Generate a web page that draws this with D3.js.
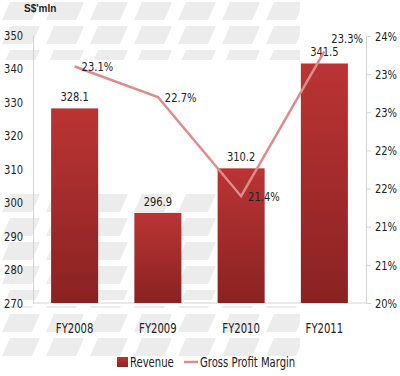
<!DOCTYPE html>
<html>
<head>
<meta charset="utf-8">
<script src="https://cdn.jsdelivr.net/npm/d3@7"></script>
<style>
  body { margin: 0; background: #fff; }
  text { font-family: "Liberation Sans Narrow", "DejaVu Sans Condensed", sans-serif; fill: #222; }
  .axis path, .axis line { stroke: #d4d4d4; }
</style>
</head>
<body>
<div id="graph"></div>
<script>
// data
var years       = ['FY2008', 'FY2009', 'FY2010', 'FY2011'];
var revenue     = [328.1, 296.9, 310.2, 341.5];
var grossMargin = [0.231, 0.227, 0.214, 0.233];

var leftTicks   = [270, 280, 290, 300, 310, 320, 330, 340, 350];
var rightTicks  = [0.200, 0.205, 0.210, 0.215, 0.220, 0.225, 0.230, 0.235];
var rightLabels = ['20%', '21%', '21%', '22%', '22%', '23%', '23%', '24%'];

var W = 400, H = 376;
var plot = { left: 33, right: 366, top: 35, bottom: 303 };

var svg = d3.select('#graph').append('svg')
            .attr('width', W)
            .attr('height', H);

var defs = svg.append('defs');
var grad = defs.append('linearGradient')
               .attr('id', 'barGrad')
               .attr('x1', 0).attr('y1', 0).attr('x2', 0).attr('y2', 1);
grad.append('stop').attr('offset', '0%').attr('stop-color', '#bb3434');
grad.append('stop').attr('offset', '100%').attr('stop-color', '#8a2222');

// faint tyre-tread background
var tread = defs.append('pattern')
                .attr('id', 'tread')
                .attr('patternUnits', 'userSpaceOnUse')
                .attr('width', 44).attr('height', 24);
tread.append('path')
     .attr('d', 'M10,2 L40,2 L32,20 L2,20 Z')
     .attr('fill', '#ececec');

var bands = [
    { x: 0, y: 0,   w: 300, h: 60 },
    { x: 0, y: 190, w: 230, h: 110 },
    { x: 0, y: 306, w: 300, h: 56 }
];
svg.append('g')
   .selectAll('rect')
   .data(bands)
   .enter().append('rect')
   .attr('x', d => d.x).attr('y', d => d.y)
   .attr('width', d => d.w).attr('height', d => d.h)
   .attr('fill', 'url(#tread)');

// narrow the glyphs (reference font is a condensed face)
var squeeze = function (sel, k)
{
    sel.each(function () {
        var t = d3.select(this);
        var x = +t.attr('x') || 0;
        t.attr('transform', 'translate(' + x + ',0) scale(' + k + ',1) translate(' + (-x) + ',0)');
    });
};

// scales
var xScale = d3.scaleBand()
               .domain(years)
               .range([plot.left, plot.right])
               .paddingInner(0.435)
               .paddingOuter(0.2175);

var yLeft = d3.scaleLinear()
              .domain([270, 350])
              .range([plot.bottom, plot.top]);

var yRight = d3.scaleLinear()
               .domain([0.20, 0.235])
               .range([plot.bottom, plot.top + 1]);

svg.append('line')
   .attr('x1', plot.left).attr('x2', plot.right)
   .attr('y1', plot.bottom).attr('y2', plot.bottom)
   .attr('stroke', '#d4d4d4');

// axes
var leftAxis = d3.axisLeft(yLeft)
                 .tickValues(leftTicks)
                 .tickSize(0)
                 .tickPadding(10);

svg.append('g')
   .attr('class', 'axis')
   .attr('transform', 'translate(' + plot.left + ',0)')
   .call(leftAxis)
   .call(g => g.selectAll('text').style('font-size', '13px').call(squeeze, 0.85));

var rightAxis = d3.axisRight(yRight)
                  .tickValues(rightTicks)
                  .tickSize(5)
                  .tickSizeOuter(0)
                  .tickPadding(4)
                  .tickFormat((d, i) => rightLabels[i]);

svg.append('g')
   .attr('class', 'axis')
   .attr('transform', 'translate(' + plot.right + ',0)')
   .call(rightAxis)
   .call(g => g.selectAll('text').style('font-size', '13px').call(squeeze, 0.85));

var xAxis = d3.axisBottom(xScale).tickSize(0).tickPadding(20);
svg.append('g')
   .attr('class', 'axis')
   .attr('transform', 'translate(0,' + plot.bottom + ')')
   .call(xAxis)
   .call(g => g.select('.domain').remove())
   .call(g => g.selectAll('text').style('font-size', '14px').call(squeeze, 0.8));

// bars
svg.selectAll('.bar')
   .data(years)
   .enter().append('rect')
   .attr('class', 'bar')
   .attr('x', d => xScale(d))
   .attr('width', xScale.bandwidth())
   .attr('y', (d, i) => yLeft(revenue[i]))
   .attr('height', (d, i) => plot.bottom - yLeft(revenue[i]))
   .attr('fill', 'url(#barGrad)');

svg.selectAll('.barLabel')
   .data(years)
   .enter().append('text')
   .attr('class', 'barLabel')
   .attr('x', d => xScale(d) + xScale.bandwidth() / 2)
   .attr('y', (d, i) => yLeft(revenue[i]) - 7)
   .attr('text-anchor', 'middle')
   .style('font-size', '13px')
   .text((d, i) => revenue[i].toFixed(1))
   .call(squeeze, 0.85);

// gross profit margin line
var cx = d => xScale(d) + xScale.bandwidth() / 2;
var line = d3.line()
             .x((d, i) => cx(years[i]))
             .y(d => yRight(d));

svg.append('path')
   .datum(grossMargin)
   .attr('d', line)
   .attr('fill', 'none')
   .attr('stroke', '#df8b8b')
   .attr('stroke-width', 2.5);

svg.selectAll('.gpmLabel')
   .data(grossMargin)
   .enter().append('text')
   .attr('class', 'gpmLabel')
   .attr('x', (d, i) => cx(years[i]) + 7)
   .attr('y', (d, i) => yRight(d) + (i === grossMargin.length - 1 ? -13 : 0))
   .attr('dy', '0.35em')
   .style('font-size', '13px')
   .text(d => (d * 100).toFixed(1) + '%')
   .call(squeeze, 0.85);

// unit title
svg.append('text')
   .attr('x', 24)
   .attr('y', 12)
   .style('font-family', '"Liberation Sans", Arial, sans-serif')
   .style('font-weight', 'bold')
   .style('font-size', '10px')
   .text("S$'mln");

// legend
var legend = svg.append('g').attr('transform', 'translate(117,357)');
legend.append('rect')
      .attr('width', 11).attr('height', 10)
      .attr('fill', 'url(#barGrad)');
legend.append('text')
      .attr('x', 13).attr('y', 5).attr('dy', '0.35em')
      .style('font-size', '14px')
      .text('Revenue')
      .call(squeeze, 0.8);
legend.append('line')
      .attr('x1', 67).attr('x2', 81)
      .attr('y1', 5).attr('y2', 5)
      .attr('stroke', '#df8b8b')
      .attr('stroke-width', 2.5);
legend.append('text')
      .attr('x', 83).attr('y', 5).attr('dy', '0.35em')
      .style('font-size', '14px')
      .text('Gross Profit Margin')
      .call(squeeze, 0.8);
</script>
</body>
</html>
